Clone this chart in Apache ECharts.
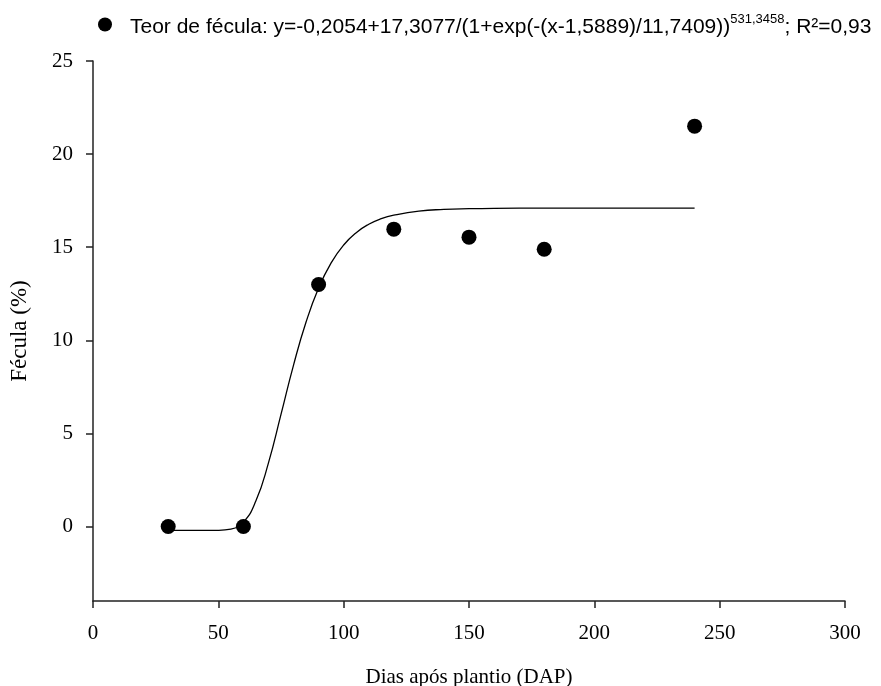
<!DOCTYPE html>
<html>
<head>
<meta charset="utf-8">
<script src="https://cdn.jsdelivr.net/npm/echarts@6/dist/echarts.min.js"></script>
<style>html,body{margin:0;padding:0;background:#fff}#c{width:881px;height:686px}</style>
</head>
<body>
<div id="c"></div>
<script>
// Observed data (Dias após plantio, Fécula %)
var obsX = [30, 60, 90, 120, 150, 180, 240];
var obsY = [0.0, 0.0, 13.0, 15.97, 15.54, 14.89, 21.5];
// Fitted curve values
var fitX = [30, 40, 50, 55, 60, 65, 70, 75, 80, 85, 90, 95, 100, 105, 110, 115, 120, 130, 140, 150, 160, 180, 200, 220, 240];
var fitY = [-0.205, -0.205, -0.202, -0.14, 0.24, 1.38, 3.42, 6.02, 8.67, 10.98, 12.81, 14.16, 15.12, 15.78, 16.23, 16.53, 16.72, 16.94, 17.03, 17.07, 17.09, 17.10, 17.10, 17.10, 17.10];
var yTicks = [0, 5, 10, 15, 20, 25];
var xTicks = [0, 50, 100, 150, 200, 250, 300];

function zip(a, b) { return a.map(function (v, i) { return [v, b[i]]; }); }

var chart = echarts.init(document.getElementById('c'));
var serif = '"Liberation Serif", "Times New Roman", serif';
var sans = '"Liberation Sans", Arial, sans-serif';
chart.setOption({
  backgroundColor: '#fff',
  animation: false,
  grid: { left: 93, right: 36, top: 61, bottom: 85, containLabel: false, outerBoundsMode: 'none' },
  legend: {
    data: ['obs'],
    left: 93,
    top: 8,
    icon: 'circle',
    itemWidth: 14,
    itemHeight: 14,
    itemGap: 0,
    formatter: function () {
      return '{t|Teor de fécula: y=-0,2054+17,3077/(1+exp(-(x-1,5889)/11,7409))}{s|531,3458}{t|; R²=0,93}';
    },
    textStyle: {
      padding: [0, 0, 0, 13],
      rich: {
        t: { fontFamily: sans, fontSize: 21, color: '#000', padding: [5, 0, 0, 0] },
        s: { fontFamily: sans, fontSize: 13, color: '#000', padding: [0, 0, 10, 0] }
      }
    }
  },
  xAxis: {
    type: 'value',
    min: 0, max: 300, interval: 50,
    name: 'Dias após plantio (DAP)',
    nameLocation: 'middle',
    nameGap: 66,
    nameTextStyle: { fontFamily: serif, fontSize: 21, color: '#000' },
    axisLine: { show: true, onZero: false, lineStyle: { color: '#222', width: 1.5 } },
    axisTick: { show: true, inside: false, length: 7, lineStyle: { color: '#222', width: 1.5 } },
    axisLabel: { fontFamily: serif, fontSize: 21, color: '#000', margin: 22, customValues: xTicks },
    splitLine: { show: false }
  },
  yAxis: {
    type: 'value',
    min: -4, max: 25,
    name: 'Fécula (%)',
    nameLocation: 'middle',
    nameGap: 62,
    nameRotate: 90,
    nameTextStyle: { fontFamily: serif, fontSize: 23, color: '#000' },
    axisLine: { show: true, onZero: false, lineStyle: { color: '#222', width: 1.5 } },
    axisTick: { show: true, inside: false, length: 7, lineStyle: { color: '#222', width: 1.5 }, customValues: yTicks },
    axisLabel: { fontFamily: serif, fontSize: 21, color: '#000', margin: 20, customValues: yTicks },
    splitLine: { show: false }
  },
  series: [
    {
      name: 'fit',
      type: 'line',
      data: zip(fitX, fitY),
      smooth: true,
      showSymbol: false,
      symbol: 'none',
      lineStyle: { color: '#000', width: 1.3 },
      z: 1
    },
    {
      name: 'obs',
      type: 'scatter',
      data: zip(obsX, obsY),
      symbol: 'circle',
      symbolSize: 15,
      itemStyle: { color: '#000', opacity: 1 },
      z: 2
    }
  ]
});
</script>
</body>
</html>
